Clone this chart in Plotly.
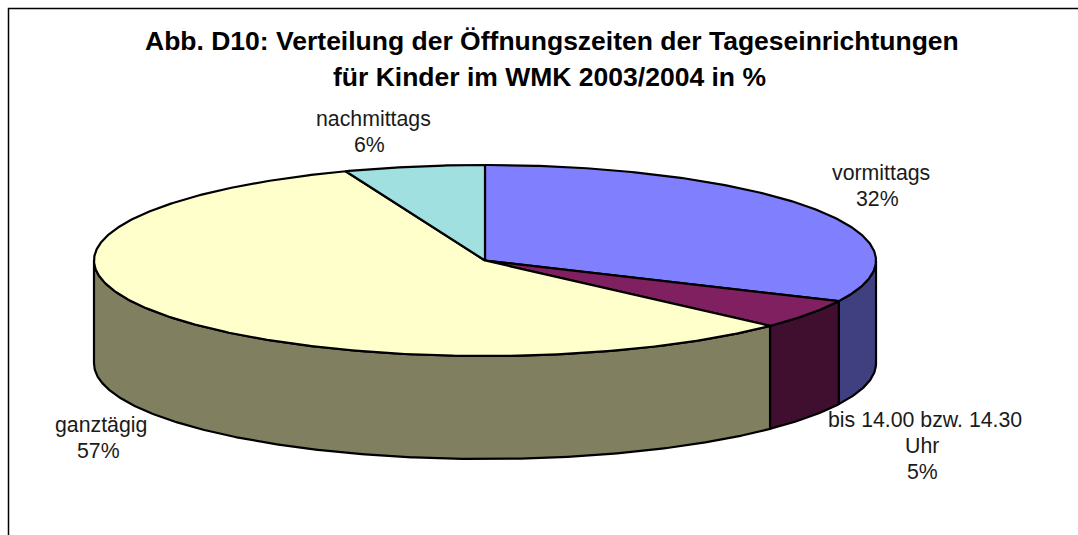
import numpy as np
import plotly.graph_objects as go

categories = [["vormittags"], ["bis 14.00 bzw. 14.30", "Uhr"], ["ganztägig"], ["nachmittags"]]
values = [32, 5, 57.2, 5.8]
top_colors = ["#8080FF", "#802060", "#FFFFCC", "#A0E0E0"]
side_colors = ["#404080", "#400F30", "#808060", "#507070"]
label_x = [881, 925, 101, 373]
sublabel_x = [877, 922, 98, 369]
label_y = [186, 446, 438, 132]
title_lines = ["Abb. D10: Verteilung der Öffnungszeiten der Tageseinrichtungen",
               "für Kinder im WMK 2003/2004 in %"]
title_x = [552, 549.5]
title_y = [41, 77]

CX, CY, RX, RY, DEPTH = 485, 260.5, 391, 95.5, 103
FRAME_L, FRAME_T = 8.5, 8.5
W, H = 1078, 535
LABEL_STEP = 26


def rim(a0, a1):
    t = np.radians(np.linspace(a0, a1, max(2, int(abs(a1 - a0) * 2) + 1)))
    return CX + RX * np.sin(t), CY - RY * np.cos(t)


fig = go.Figure()
pct = np.array(values, dtype=float)
edges = np.concatenate([[0], np.cumsum(pct)]) / pct.sum() * 360
line = dict(color="#000000", width=2.2)

# Frame
fig.add_trace(go.Scatter(x=[FRAME_L, FRAME_L, W], y=[H, FRAME_T, FRAME_T],
                         mode="lines", line=dict(color="#000000", width=1.5),
                         hoverinfo="skip", showlegend=False))

# Side walls: only the front half (90..270 degrees) is visible
for i in range(len(values)):
    a0, a1 = max(edges[i], 90), min(edges[i + 1], 270)
    if a1 <= a0:
        continue
    x, y = rim(a0, a1)
    xs = np.concatenate([x, x[::-1], x[:1]])
    ys = np.concatenate([y, y[::-1] + DEPTH, y[:1]])
    fig.add_trace(go.Scatter(x=xs, y=ys, mode="lines", fill="toself", fillcolor=side_colors[i],
                             line=line, hoverinfo="skip", showlegend=False))

# Top slices
for i in range(len(values)):
    x, y = rim(edges[i], edges[i + 1])
    xs = np.concatenate([[CX], x, [CX]])
    ys = np.concatenate([[CY], y, [CY]])
    fig.add_trace(go.Scatter(x=xs, y=ys, mode="lines", fill="toself", fillcolor=top_colors[i],
                             line=line, hoverinfo="skip", showlegend=False))

for name, v, lx, sx, ly in zip(categories, values, label_x, sublabel_x, label_y):
    rows = name + [f"{v:.0f}%"]
    for k, row in enumerate(rows):
        fig.add_annotation(x=lx if k == 0 else sx,
                           y=ly + (k - (len(rows) - 1) / 2) * LABEL_STEP, text=row,
                           showarrow=False, align="center", yanchor="middle",
                           font=dict(family="Liberation Sans", size=21.3, color="#1a1a1a"))

for row, tx, ty in zip(title_lines, title_x, title_y):
    fig.add_annotation(x=tx, y=ty, text=f"<b>{row}</b>", showarrow=False, yanchor="middle",
                       font=dict(family="Liberation Sans", size=26.5, color="#000000"))

fig.update_layout(
    width=W, height=H, margin=dict(l=0, r=0, t=0, b=0),
    paper_bgcolor="#FFFFFF", plot_bgcolor="#FFFFFF", showlegend=False,
    xaxis=dict(range=[0, W], visible=False, fixedrange=True),
    yaxis=dict(range=[H, 0], visible=False, fixedrange=True),
)
fig.write_html("out.html", config={"displayModeBar": False},
               default_width=f"{W}px", default_height=f"{H}px",
               post_script="document.body.style.margin='0';document.body.style.overflow='hidden';")
